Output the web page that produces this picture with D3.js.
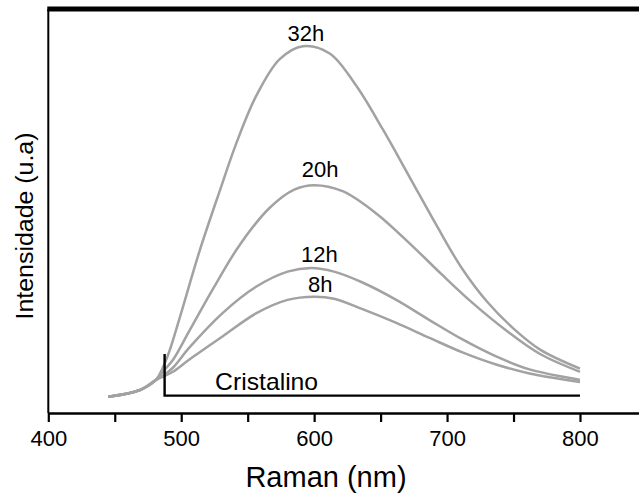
<!DOCTYPE html>
<html>
<head>
<meta charset="utf-8">
<script src="https://cdn.jsdelivr.net/npm/d3@7"></script>
<style>
  html, body { margin: 0; padding: 0; background: #fff; }
  svg { display: block; }
  text { font-family: "Liberation Sans", Arial, sans-serif; fill: #000; }
</style>
</head>
<body>
<svg id="chart" width="639" height="493"></svg>
<script>
// ---- data ----
const seriesNames = ["32h", "20h", "12h", "8h"];
const curve32h = [[445,4.0],[469,5.7],[481,8.2],[487.7,12.4],[491.4,15.6],[498.9,23.6],[513.9,40.2],[529,55.0],[541.5,66.8],[556.6,78.6],[574.1,87.6],[591.6,90.8],[611.7,89.0],[631.7,81.0],[651.5,70.3],[671.8,58.4],[691.8,46.6],[711,35.9],[730,27.6],[750,20.9],[770,15.7],[800,11.0]];
const curve20h = [[445,4.0],[469,5.7],[481,8.2],[487.7,10.8],[493.7,13.1],[506.4,20.5],[523.7,30.6],[544,41.6],[566.6,50.8],[585,55.3],[600,56.4],[621.4,54.9],[646.7,49.4],[671.8,42.0],[696,34.3],[720,27.0],[745,20.3],[770,14.6],[800,10.2]];
const curve12h = [[445,4.0],[469,5.7],[481,8.2],[487.7,9.6],[493.7,11.2],[506.4,16.3],[531.3,24.8],[556.6,31.3],[580,35.0],[598,35.9],[615,35.0],[636.4,32.3],[661.8,28.0],[686.8,23.0],[711.6,18.2],[736.9,14.0],[762,10.8],[800,8.2]];
const curve8h  = [[445,4.0],[469,5.7],[481,8.2],[487.7,9.2],[493.7,10.2],[506.4,13.3],[531.3,19.0],[556.6,24.7],[580,28.0],[600,28.8],[615,28.3],[636.4,25.7],[661.8,22.3],[686.8,18.6],[711.6,15.0],[736.9,12.0],[762,9.8],[800,7.7]];
const seriesValues = [curve32h, curve20h, curve12h, curve8h];
const cristalino = [[487.5,14.6],[487.5,4.3],[800,4.3]];
const cristalinoName = "Cristalino";
const xTickValues = [400,450,500,550,600,650,700,750,800];
const xTickLabels = ["400","","500","","600","","700","","800"];
const xTitle = "Raman (nm)";
const yTitle = "Intensidade (u.a)";

// ---- drawing ----
const svg = d3.select("#chart");
const x = d3.scaleLinear().domain([400, 844.4]).range([48.3, 639]);
const y = d3.scaleLinear().domain([0, 100]).range([413, 9]);

const line = d3.line().x(d => x(d[0])).y(d => y(d[1])).curve(d3.curveCatmullRom.alpha(0.5));

// curves
svg.append("g").selectAll("path").data(seriesValues).join("path")
  .attr("d", line)
  .attr("fill", "none")
  .attr("stroke", "#a2a2a2")
  .attr("stroke-width", 2.5)
  .attr("stroke-linejoin", "round");

// Cristalino
svg.append("path")
  .attr("d", d3.line().x(d => x(d[0])).y(d => y(d[1]))(cristalino))
  .attr("fill", "none").attr("stroke", "#000").attr("stroke-width", 2.4);

// x axis
const xAxis = d3.axisBottom(x).tickValues(xTickValues)
  .tickFormat((d, i) => xTickLabels[i]).tickSize(9).tickPadding(8).tickSizeOuter(0);
const gx = svg.append("g").attr("transform", `translate(0,${y(0)})`).call(xAxis);
gx.select(".domain").attr("stroke-width", 2.5).attr("stroke", "#000");
gx.selectAll(".tick line").attr("stroke-width", 2.2).attr("stroke", "#000");
gx.selectAll(".tick text").attr("font-size", 22).attr("font-family", "Liberation Sans, Arial, sans-serif").attr("fill", "#000");

// left axis line
svg.append("line").attr("x1", x(400)).attr("x2", x(400)).attr("y1", y(100)).attr("y2", y(0))
  .attr("stroke", "#000").attr("stroke-width", 2);
// top thick border
svg.append("line").attr("x1", x(400) - 1).attr("x2", 639).attr("y1", y(100)).attr("y2", y(100))
  .attr("stroke", "#000").attr("stroke-width", 5);

// series labels above peaks
const labelDx = [3, 6, 8, 6];
const labelDy = [5, 8, 6, 5];
seriesNames.forEach((name, i) => {
  const pts = seriesValues[i];
  const peak = pts.reduce((a, b) => (b[1] > a[1] ? b : a));
  svg.append("text")
    .attr("x", x(peak[0]) + labelDx[i])
    .attr("y", y(peak[1]) - labelDy[i])
    .attr("text-anchor", "middle")
    .attr("font-size", 22)
    .text(name);
});

svg.append("text").attr("x", x(525.5)).attr("y", y(5.7))
  .attr("font-size", 24).attr("textLength", 103).attr("lengthAdjust", "spacingAndGlyphs")
  .text(cristalinoName);

// axis titles
svg.append("text").attr("x", 326).attr("y", 487).attr("text-anchor", "middle")
  .attr("font-size", 29).text(xTitle);
svg.append("text").attr("transform", "translate(33,226) rotate(-90)").attr("text-anchor", "middle")
  .attr("font-size", 23).attr("textLength", 187).attr("lengthAdjust", "spacingAndGlyphs")
  .text(yTitle);
</script>
</body>
</html>
